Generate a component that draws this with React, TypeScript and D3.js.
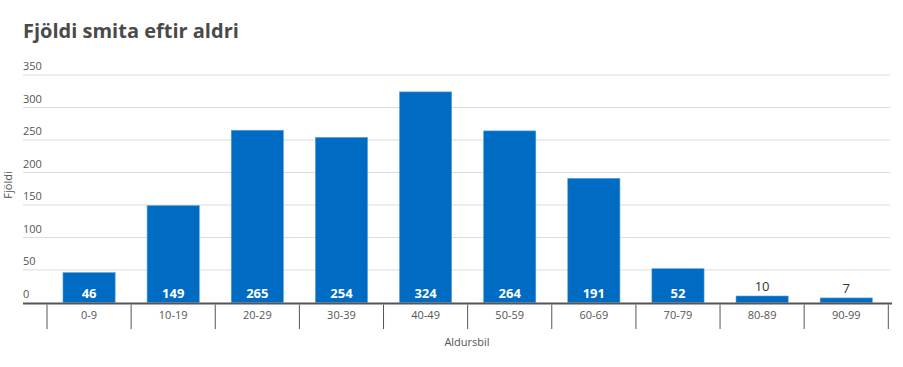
import React, { useRef, useEffect } from 'react'
import * as d3 from 'd3'

const categories = ['0-9', '10-19', '20-29', '30-39', '40-49', '50-59', '60-69', '70-79', '80-89', '90-99']
const values = [46, 149, 265, 254, 324, 264, 191, 52, 10, 7]
const yTicks = [0, 50, 100, 150, 200, 250, 300, 350]

const FONT = "'Open Sans', 'Noto Sans', sans-serif"

export default function App() {
  const svgRef = useRef<SVGSVGElement>(null)

  useEffect(() => {
    const svg = d3.select(svgRef.current)
    svg.selectAll('*').remove()

    const left = 23
    const right = 890
    const x = d3.scaleBand<string>().domain(categories).range([47, 888.3]).paddingInner(0.38).paddingOuter(0.19)
    const y = d3.scaleLinear().domain([0, 350]).range([302.5, 75])

    svg.append('text')
      .attr('x', 23).attr('y', 38)
      .attr('fill', '#4a4a4a')
      .style('font-family', FONT).style('font-size', '20px').style('font-weight', '700')
      .text('Fjöldi smita eftir aldri')

    // grille + libellés y
    yTicks.forEach((t) => {
      if (t > 0) {
        svg.append('line')
          .attr('x1', left).attr('x2', right)
          .attr('y1', y(t)).attr('y2', y(t))
          .attr('stroke', '#dcdcdc').attr('stroke-width', 1)
      }
      svg.append('text')
        .attr('x', left).attr('y', y(t) - 5)
        .attr('fill', '#555')
        .style('font-family', FONT).style('font-size', '11px')
        .text(t)
    })

    // barres + valeurs
    categories.forEach((c, i) => {
      const v = values[i]
      svg.append('rect')
        .attr('x', x(c)!).attr('y', y(v))
        .attr('width', x.bandwidth()).attr('height', y(0) - y(v))
        .attr('fill', '#006bc2')
        .attr('stroke', '#5aa0dc').attr('stroke-width', 0.6)
      const inside = y(0) - y(v) > 20
      svg.append('text')
        .attr('x', x(c)! + x.bandwidth() / 2)
        .attr('y', inside ? y(0) - 5 : y(v) - 5)
        .attr('text-anchor', 'middle')
        .attr('fill', inside ? '#fff' : '#333')
        .style('font-family', FONT).style('font-size', '13px')
        .style('font-weight', inside ? '700' : '400')
        .text(v)
    })

    // ligne de base
    svg.append('line')
      .attr('x1', left).attr('x2', 892)
      .attr('y1', y(0) + 1).attr('y2', y(0) + 1)
      .attr('stroke', '#555').attr('stroke-width', 2)

    // séparateurs de catégories
    const step = x.step()
    const bandStart = x.range()[0]
    const seps = d3.range(categories.length + 1).map((i) => bandStart + i * step)
    seps.forEach((sx) => {
      svg.append('line')
        .attr('x1', sx).attr('x2', sx)
        .attr('y1', y(0) + 2).attr('y2', 329)
        .attr('stroke', '#555').attr('stroke-width', 1)
    })

    categories.forEach((c) => {
      svg.append('text')
        .attr('x', x(c)! + x.bandwidth() / 2).attr('y', 319)
        .attr('text-anchor', 'middle')
        .attr('fill', '#555')
        .style('font-family', FONT).style('font-size', '11px')
        .text(c)
    })

    svg.append('text')
      .attr('x', 467).attr('y', 346)
      .attr('text-anchor', 'middle')
      .attr('fill', '#555')
      .style('font-family', FONT).style('font-size', '11px')
      .text('Aldursbil')

    svg.append('text')
      .attr('transform', `translate(12, 185) rotate(-90)`)
      .attr('text-anchor', 'middle')
      .attr('fill', '#555')
      .style('font-family', FONT).style('font-size', '11px')
      .text('Fjöldi')
  }, [])

  return (
    <svg ref={svgRef} width={903} height={367} style={{ position: 'absolute', left: 0, top: 0 }} />
  )
}
